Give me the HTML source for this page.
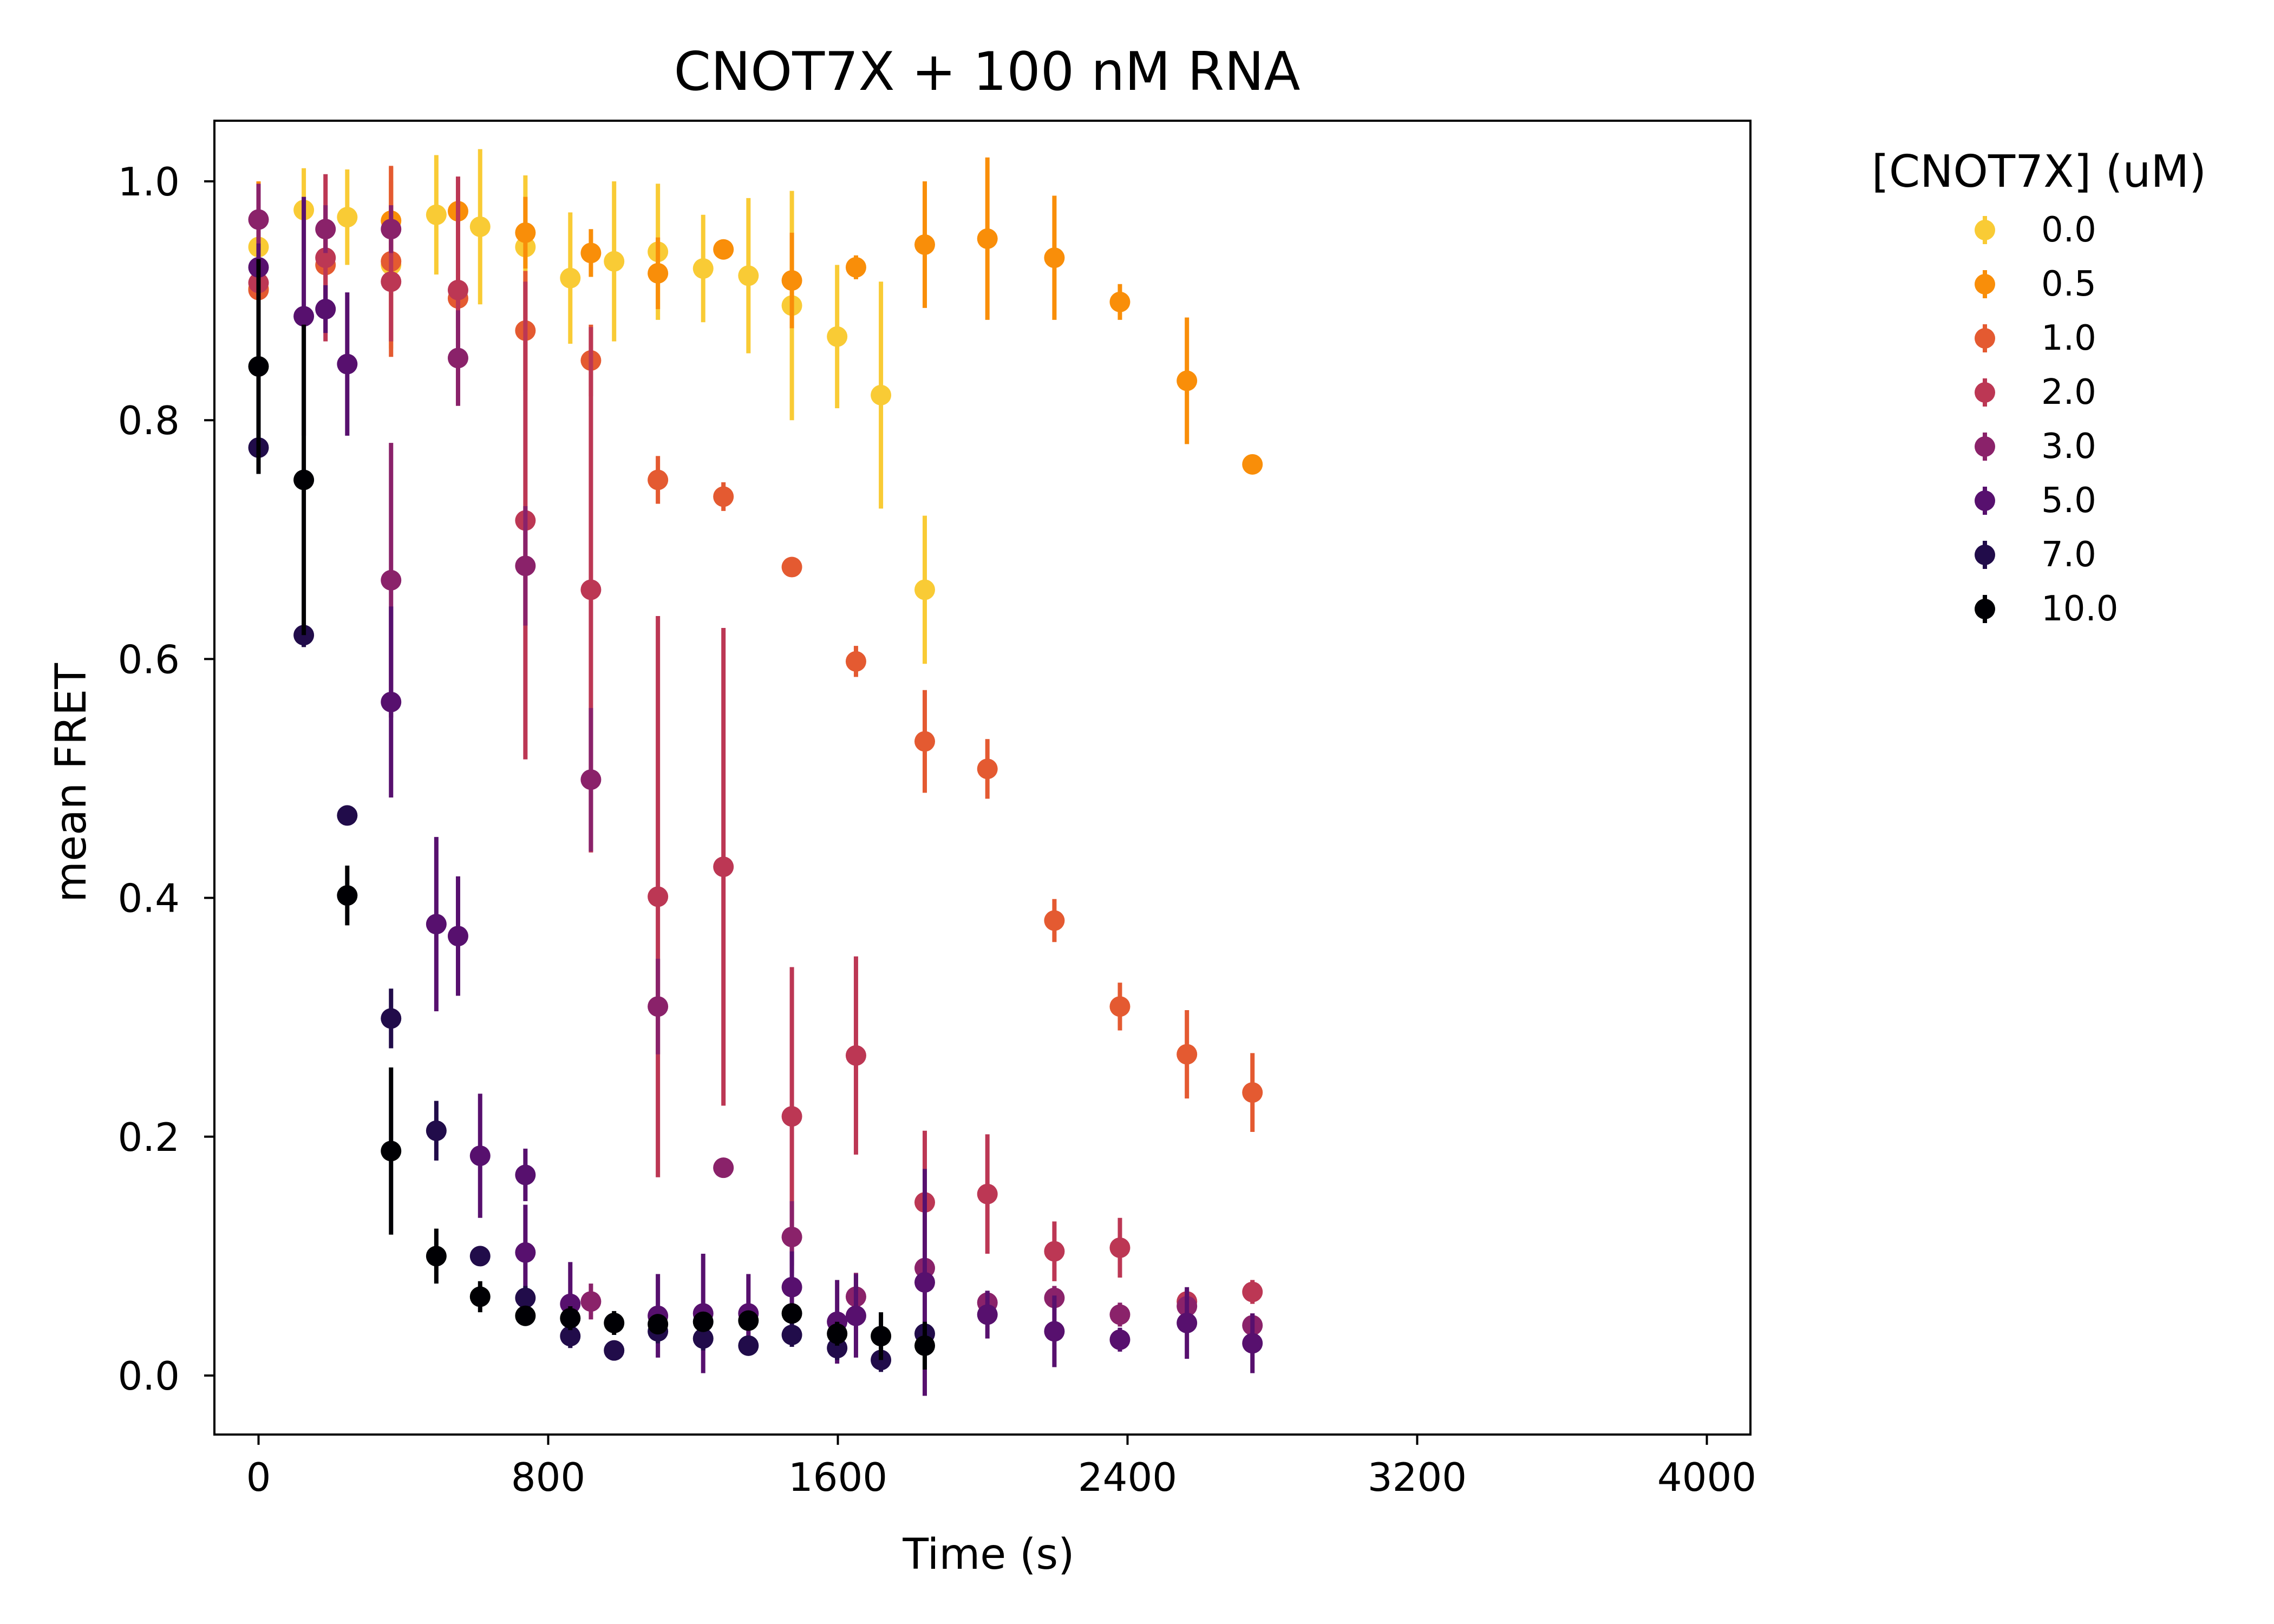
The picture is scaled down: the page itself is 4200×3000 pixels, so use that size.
<!DOCTYPE html>
<html><head><meta charset="utf-8"><style>
html,body{margin:0;padding:0;background:#fff}
svg{display:block;font-family:"DejaVu Sans","Liberation Sans",sans-serif}
</style></head><body>
<svg id="chart" width="4200" height="3000" viewBox="0 0 4200 3000" xmlns="http://www.w3.org/2000/svg">
<rect width="4200" height="3000" fill="#fff"/>
<text x="1823" y="166" font-size="98" text-anchor="middle">CNOT7X + 100 nM RNA</text>
<g id="marks"></g>
<g id="axes"></g>
<g id="legend"></g>
</svg>
<script>
const seriesLabels = ["0.0","0.5","1.0","2.0","3.0","5.0","7.0","10.0"];
const seriesColors = ["#f9cb35","#f98e09","#e45a31","#bc3754","#8a226a","#57106e","#210c4a","#000004"];
const xTicks = [0,800,1600,2400,3200,4000];
const yTicks = [0.0,0.2,0.4,0.6,0.8,1.0];
const t00 = [0,125,245,366,491,612,737,861,982,1103,1228,1353,1473,1598,1719,1840];
const v00 = [0.945,0.976,0.970,0.930,0.972,0.962,0.945,0.919,0.933,0.941,0.927,0.921,0.896,0.870,0.821,0.658];
const e00 = [0.03,0.035,0.04,0.07,0.05,0.065,0.06,0.055,0.067,0.057,0.045,0.065,0.096,0.06,0.095,0.062];
const t05 = [0,366,551,737,918,1103,1284,1473,1650,1840,2013,2198,2379,2564,2745];
const v05 = [0.91,0.967,0.975,0.957,0.940,0.923,0.943,0.917,0.928,0.947,0.952,0.936,0.899,0.833,0.763];
const e05 = [0.09,0.045,0.01,0.03,0.02,0.03,0.005,0.04,0.01,0.053,0.068,0.052,0.015,0.053,0.005];
const t10 = [0,185,366,551,737,918,1103,1284,1473,1650,1840,2013,2198,2379,2564,2745];
const v10 = [0.909,0.930,0.933,0.902,0.875,0.850,0.750,0.736,0.677,0.598,0.531,0.508,0.381,0.309,0.269,0.237];
const e10 = [0.07,0.04,0.08,0.025,0.05,0.03,0.02,0.012,0.005,0.013,0.043,0.025,0.018,0.02,0.037,0.033];
const t20 = [0,185,366,551,737,918,1103,1284,1473,1650,1840,2013,2198,2379,2564,2745];
const v20 = [0.915,0.936,0.916,0.909,0.716,0.658,0.401,0.426,0.217,0.268,0.145,0.152,0.104,0.107,0.062,0.070];
const e20 = [0.08,0.07,0.05,0.095,0.2,0.22,0.235,0.2,0.125,0.083,0.06,0.05,0.025,0.025,0.01,0.01];
const t30 = [0,185,366,551,737,918,1103,1284,1473,1650,1840,2013,2198,2379,2564,2745,366,918];
const v30 = [0.968,0.960,0.960,0.852,0.678,0.499,0.309,0.174,0.116,0.066,0.090,0.061,0.065,0.051,0.058,0.042,0.666,0.062];
const e30 = [0.03,0.02,0.02,0.04,0.05,0.06,0.04,0.005,0.03,0.02,0.03,0.01,0.01,0.01,0.01,0.01,0.115,0.015];
const t50 = [0,125,185,245,366,491,551,612,737,737,861,1103,1228,1353,1473,1598,1650,1840,2013,2198,2379,2564,2745];
const v50 = [0.928,0.887,0.893,0.847,0.564,0.378,0.368,0.184,0.168,0.103,0.060,0.050,0.052,0.052,0.074,0.045,0.050,0.078,0.051,0.037,0.030,0.044,0.027];
const e50 = [0.02,0.1,0.02,0.06,0.08,0.073,0.05,0.052,0.022,0.04,0.035,0.035,0.05,0.033,0.03,0.035,0.035,0.095,0.02,0.03,0.01,0.03,0.025];
const t70 = [0,125,245,366,491,612,737,861,982,1103,1228,1353,1473,1598,1719,1840];
const v70 = [0.777,0.620,0.469,0.299,0.205,0.100,0.065,0.033,0.021,0.037,0.031,0.025,0.034,0.023,0.013,0.035];
const e70 = [0.02,0.01,0.005,0.025,0.025,0.005,0.01,0.01,0.005,0.01,0.01,0.005,0.01,0.01,0.01,0.01];
const t100 = [0,125,245,366,491,612,737,861,982,1103,1228,1353,1473,1598,1719,1840];
const v100 = [0.845,0.750,0.402,0.188,0.100,0.066,0.050,0.048,0.044,0.043,0.045,0.046,0.052,0.035,0.033,0.025];
const e100 = [0.09,0.13,0.025,0.07,0.023,0.013,0.008,0.01,0.01,0.008,0.008,0.008,0.008,0.01,0.02,0.02];
const allT = [t00,t05,t10,t20,t30,t50,t70,t100];
const allV = [v00,v05,v10,v20,v30,v50,v70,v100];
const allE = [e00,e05,e10,e20,e30,e50,e70,e100];

const L=396,R=3233,T=223,B=2650;
function xs(t){return 477.5 + t*(535/800);}
function ys(v){return 2541 - v*2206;}
const NS="http://www.w3.org/2000/svg";
function mk(tag,attrs,parent){const e=document.createElementNS(NS,tag);for(const k in attrs)e.setAttribute(k,attrs[k]);parent.appendChild(e);return e;}

const marks=document.getElementById('marks');
for(let s=0;s<allT.length;s++){
  const g=mk('g',{},marks);
  
  
  for(let i=0;i<allT[s].length;i++){
    const x=xs(allT[s][i]),v=allV[s][i],e=allE[s][i];
    const ln=mk('line',{x1:x,x2:x,y1:ys(v-e),y2:ys(v+e),stroke:seriesColors[s],'stroke-width':8},g);
    
    
    const c=mk('ellipse',{cx:x,cy:ys(v),rx:19,ry:19,fill:seriesColors[s]},g);
    
    
  }
}

const axes=document.getElementById('axes');
const fr=mk('rect',{x:L,y:T,width:R-L,height:B-T,fill:'none',stroke:'#000','stroke-width':4},axes);


for(const t of xTicks){
  const x=xs(t);
  mk('line',{x1:x,x2:x,y1:B,y2:B+19,stroke:'#000','stroke-width':4},axes);
  const tx=mk('text',{x:x,y:B+104,'font-size':72,'text-anchor':'middle'},axes);
  tx.textContent=String(t);
  
  
}
for(const v of yTicks){
  const y=ys(v);
  mk('line',{x1:L-19,x2:L,y1:y,y2:y,stroke:'#000','stroke-width':4},axes);
  const tx=mk('text',{x:L-64,y:y+26,'font-size':72,'text-anchor':'end'},axes);
  tx.textContent=v.toFixed(1);
  
  
}
const xl=mk('text',{x:1826,y:2898,'font-size':78,'text-anchor':'middle'},axes);
xl.textContent='Time (s)';


const yl=mk('text',{x:0,y:0,'font-size':78,'text-anchor':'middle',transform:'translate(158,1446) rotate(-90)'},axes);
yl.textContent='mean FRET';



const leg=document.getElementById('legend');


const lt=mk('text',{x:3766,y:345,'font-size':82,'text-anchor':'middle'},leg);
lt.textContent='[CNOT7X] (uM)';


for(let s=0;s<seriesLabels.length;s++){
  const y=425+s*100;
  const g=mk('g',{},leg);
  
  
  mk('line',{x1:3666,x2:3666,y1:y-26,y2:y+26,stroke:seriesColors[s],'stroke-width':8},g);
  mk('ellipse',{cx:3666,cy:y,rx:19,ry:19,fill:seriesColors[s]},g);
  const tx=mk('text',{x:3770,y:y+21,'font-size':64},g);
  tx.textContent=seriesLabels[s];
}
</script>
</body></html>
